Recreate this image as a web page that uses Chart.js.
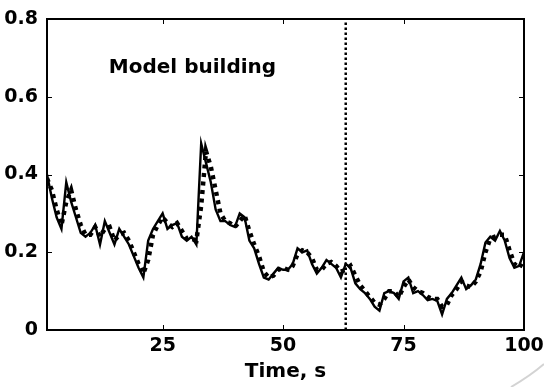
<!DOCTYPE html>
<html>
<head>
<meta charset="utf-8">
<script src="https://cdn.jsdelivr.net/npm/chart.js@4/dist/chart.umd.min.js"></script>
<style>
  html, body { margin: 0; padding: 0; background: #fff; }
  #wrap { position: relative; width: 544px; height: 387px; }
  #c { display: block; }
  #box { position: absolute; box-sizing: border-box; border: 2px solid #000; pointer-events: none; }
</style>
</head>
<body>
<div id="wrap">
  <canvas id="c" width="544" height="387"></canvas>
  <div id="box"></div>
</div>
<script>
// Sample times, s
const timeS = [
  1, 2, 3, 4, 5, 6, 7, 8, 9, 10,
  11, 12, 13, 14, 15, 16, 17, 18, 19, 20,
  21, 22, 23, 24, 25, 26, 27, 28, 29, 30,
  31, 32, 33, 34, 35, 36, 37, 38, 39, 40,
  41, 42, 43, 44, 45, 46, 47, 48, 49, 50,
  51, 52, 53, 54, 55, 56, 57, 58, 59, 60,
  61, 62, 63, 64, 65, 66, 67, 68, 69, 70,
  71, 72, 73, 74, 75, 76, 77, 78, 79, 80,
  81, 82, 83, 84, 85, 86, 87, 88, 89, 90,
  91, 92, 93, 94, 95, 96, 97, 98, 99, 100
];

// Measured signal (solid line)
const measured = [
  0.40, 0.34, 0.29, 0.26, 0.38, 0.33, 0.29, 0.25, 0.24, 0.25,
  0.27, 0.22, 0.28, 0.25, 0.22, 0.26, 0.24, 0.22, 0.19, 0.16,
  0.135, 0.23, 0.26, 0.28, 0.30, 0.26, 0.27, 0.275, 0.24, 0.23,
  0.24, 0.22, 0.48, 0.43, 0.38, 0.31, 0.28, 0.28, 0.27, 0.265,
  0.30, 0.29, 0.23, 0.21, 0.17, 0.135, 0.13, 0.145, 0.16, 0.155,
  0.155, 0.17, 0.21, 0.20, 0.205, 0.17, 0.145, 0.16, 0.18, 0.17,
  0.16, 0.135, 0.17, 0.16, 0.12, 0.105, 0.095, 0.08, 0.06, 0.05,
  0.095, 0.10, 0.095, 0.08, 0.125, 0.135, 0.095, 0.10, 0.09, 0.077,
  0.08, 0.075, 0.04, 0.08, 0.095, 0.115, 0.135, 0.105, 0.115, 0.13,
  0.17, 0.225, 0.24, 0.23, 0.255, 0.23, 0.185, 0.16, 0.165, 0.20
];

// Model output (thick dotted line)
const predicted = [
  0.39, 0.36, 0.31, 0.27, 0.33, 0.36, 0.31, 0.27, 0.245, 0.245,
  0.265, 0.24, 0.26, 0.265, 0.23, 0.245, 0.25, 0.23, 0.20, 0.17,
  0.145, 0.18, 0.245, 0.27, 0.29, 0.275, 0.265, 0.275, 0.255, 0.235,
  0.235, 0.23, 0.32, 0.46, 0.42, 0.36, 0.30, 0.28, 0.275, 0.265,
  0.28, 0.295, 0.255, 0.22, 0.19, 0.15, 0.135, 0.14, 0.155, 0.16,
  0.155, 0.165, 0.195, 0.205, 0.20, 0.185, 0.155, 0.155, 0.17, 0.175,
  0.165, 0.15, 0.155, 0.165, 0.14, 0.115, 0.10, 0.085, 0.07, 0.065,
  0.08, 0.10, 0.10, 0.085, 0.11, 0.13, 0.11, 0.10, 0.095, 0.085,
  0.08, 0.08, 0.06, 0.065, 0.09, 0.105, 0.125, 0.115, 0.11, 0.125,
  0.15, 0.20, 0.235, 0.24, 0.245, 0.245, 0.205, 0.17, 0.16, 0.18
];

// End of the model-building period, s
const splitTime = 63;

// Axis ranges and ticks
const xMin = 1, xMax = 100;
const yMin = 0, yMax = 0.8;
const xTicks = [25, 50, 75, 100];
const yTicks = [0, 0.2, 0.4, 0.6, 0.8];
const xTitle = 'Time, s';
const noteText = 'Model building';
const notePos = { x: 31.2, y: 0.674 };

const FONT = "'DejaVu Sans', 'Liberation Sans', Arial, sans-serif";

const toXY = (ys) => ys.map((v, i) => ({ x: timeS[i], y: v }));

// Box round the plot area, inward tick marks on all four sides, text note
const plotBox = {
  id: 'plotBox',
  afterDraw(chart) {
    const ctx = chart.ctx;
    const a = chart.chartArea;
    const x = chart.scales.x;
    const y = chart.scales.y;
    const tl = 5;
    ctx.save();
    ctx.fillStyle = '#000';
    ctx.fillRect(a.left - 1, a.top - 1, a.right - a.left + 2, 2);
    ctx.fillRect(a.left - 1, a.bottom - 1, a.right - a.left + 2, 2);
    ctx.fillRect(a.left - 1, a.top - 1, 2, a.bottom - a.top + 2);
    ctx.fillRect(a.right - 1, a.top - 1, 2, a.bottom - a.top + 2);
    xTicks.forEach(v => {
      const px = Math.round(x.getPixelForValue(v));
      ctx.fillRect(px, a.bottom - tl, 1, tl);
      ctx.fillRect(px, a.top, 1, tl);
    });
    yTicks.forEach(v => {
      const py = Math.round(y.getPixelForValue(v));
      ctx.fillRect(a.left, py, tl, 1);
      ctx.fillRect(a.right - tl, py, tl, 1);
    });

    ctx.font = 'bold 20px ' + FONT;
    ctx.textAlign = 'center';
    ctx.textBaseline = 'middle';
    ctx.fillText(noteText, x.getPixelForValue(notePos.x), y.getPixelForValue(notePos.y));

    // faint corner stroke
    ctx.strokeStyle = 'rgba(200,200,200,0.8)';
    ctx.lineWidth = 2;
    ctx.beginPath();
    ctx.moveTo(511, 387);
    ctx.quadraticCurveTo(530, 376, 544, 364);
    ctx.stroke();
    ctx.restore();

    // outline element placed over the plot area
    const box = document.getElementById('box');
    box.style.left = (a.left - 1) + 'px';
    box.style.top = (a.top - 1) + 'px';
    box.style.width = (a.right - a.left + 2) + 'px';
    box.style.height = (a.bottom - a.top + 2) + 'px';
  }
};

const tickFont = { family: FONT, weight: 'bold', size: 19 };

new Chart(document.getElementById('c'), {
  type: 'line',
  data: {
    datasets: [
      {
        label: 'Measured',
        data: toXY(measured),
        borderColor: '#000',
        borderWidth: 2.4,
        pointRadius: 0,
        tension: 0,
        order: 2
      },
      {
        label: 'Model',
        data: toXY(predicted),
        borderColor: '#000',
        borderWidth: 4.5,
        borderDash: [4, 4.5],
        borderCapStyle: 'butt',
        pointRadius: 0,
        tension: 0,
        order: 1
      },
      {
        label: 'Split',
        data: [{ x: splitTime, y: yMin }, { x: splitTime, y: yMax }],
        borderColor: '#000',
        borderWidth: 2.5,
        borderDash: [2.5, 2.5],
        borderCapStyle: 'butt',
        pointRadius: 0,
        order: 0
      }
    ]
  },
  options: {
    responsive: false,
    animation: false,
    devicePixelRatio: 1,
    layout: { padding: { left: 0, top: 19, right: 20, bottom: 0 } },
    plugins: { legend: { display: false }, tooltip: { enabled: false } },
    scales: {
      x: {
        type: 'linear',
        min: xMin,
        max: xMax,
        afterBuildTicks: s => { s.ticks = xTicks.map(v => ({ value: v })); },
        afterFit: s => { s.height = 57; s.paddingLeft = 0; s.paddingRight = 20; },
        grid: { display: false, drawTicks: false },
        border: { display: false },
        ticks: { padding: 5, color: '#000', font: tickFont, maxRotation: 0, autoSkip: false },
        title: {
          display: true, text: xTitle, color: '#000',
          font: { family: FONT, weight: 'bold', size: 20 },
          padding: { top: 0, bottom: 3 }
        }
      },
      y: {
        min: yMin,
        max: yMax,
        afterBuildTicks: s => { s.ticks = yTicks.map(v => ({ value: v })); },
        afterFit: s => { s.width = 47; s.paddingTop = 0; s.paddingBottom = 0; },
        grid: { display: false, drawTicks: false },
        border: { display: false },
        ticks: { padding: 9, color: '#000', font: tickFont, callback: v => String(v) }
      }
    }
  },
  plugins: [plotBox]
});
</script>
</body>
</html>
